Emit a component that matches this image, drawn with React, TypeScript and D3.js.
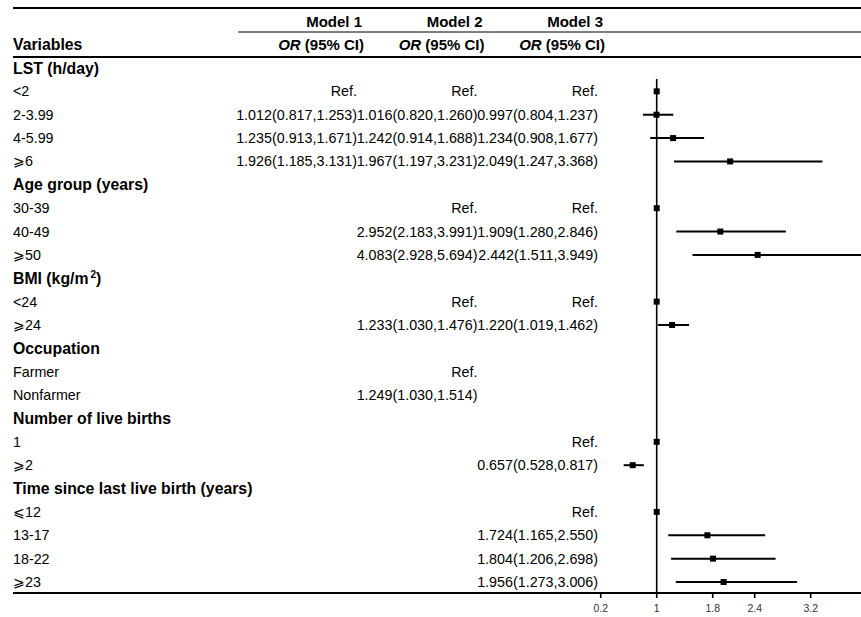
import React from "react";
import * as d3 from "d3";

// rows of the table (group headers + categories)
const rowLabels = [
	"LST (h/day)", "<2", "2-3.99", "4-5.99", "⩾6",
	"Age group (years)", "30-39", "40-49", "⩾50",
	"BMI (kg/m2)", "<24", "⩾24",
	"Occupation", "Farmer", "Nonfarmer",
	"Number of live births", "1", "⩾2",
	"Time since last live birth (years)", "⩽12", "13-17", "18-22", "⩾23",
];
const isGroup = [1, 0, 0, 0, 0, 1, 0, 0, 0, 1, 0, 0, 1, 0, 0, 1, 0, 0, 1, 0, 0, 0, 0];

const N = null;
// Ref. rows: OR = 1 with no interval
const m1OR = [N, 1, 1.012, 1.235, 1.926, N, N, N, N, N, N, N, N, N, N, N, N, N, N, N, N, N, N];
const m1Lo = [N, N, 0.817, 0.913, 1.185, N, N, N, N, N, N, N, N, N, N, N, N, N, N, N, N, N, N];
const m1Hi = [N, N, 1.253, 1.671, 3.131, N, N, N, N, N, N, N, N, N, N, N, N, N, N, N, N, N, N];

const m2OR = [N, 1, 1.016, 1.242, 1.967, N, 1, 2.952, 4.083, N, 1, 1.233, N, 1, 1.249, N, N, N, N, N, N, N, N];
const m2Lo = [N, N, 0.82, 0.914, 1.197, N, N, 2.183, 2.928, N, N, 1.03, N, N, 1.03, N, N, N, N, N, N, N, N];
const m2Hi = [N, N, 1.26, 1.688, 3.231, N, N, 3.991, 5.694, N, N, 1.476, N, N, 1.514, N, N, N, N, N, N, N, N];

const m3OR = [N, 1, 0.997, 1.234, 2.049, N, 1, 1.909, 2.442, N, 1, 1.22, N, N, N, N, 1, 0.657, N, 1, 1.724, 1.804, 1.956];
const m3Lo = [N, N, 0.804, 0.908, 1.247, N, N, 1.28, 1.511, N, N, 1.019, N, N, N, N, N, 0.528, N, N, 1.165, 1.206, 1.273];
const m3Hi = [N, N, 1.237, 1.677, 3.368, N, N, 2.846, 3.949, N, N, 1.462, N, N, N, N, N, 0.817, N, N, 2.55, 2.698, 3.006];

const modelNames = ["Model 1", "Model 2", "Model 3"];
const xTicks = [0.2, 1, 1.8, 2.4, 3.2];

const W = 861;
const H = 617;
const font = "'Liberation Sans', Arial, Helvetica, sans-serif";
const f3 = d3.format(".3f");

function cellText(or: number | null, lo: number | null, hi: number | null) {
	if (or == null) return "";
	if (lo == null || hi == null) return "Ref.";
	return `${f3(or)}(${f3(lo)},${f3(hi)})`;
}

const App = () => {
	const x = d3.scaleLinear().domain([0.2, 3.2]).range([600.7, 810.7]);
	const y = d3.scaleLinear().domain([0, rowLabels.length - 1]).range([68, 582]);
	const colRight = [357, 477.5, 598]; // right edge of each model column
	const models = [
		[m1OR, m1Lo, m1Hi],
		[m2OR, m2Lo, m2Hi],
		[m3OR, m3Lo, m3Hi],
	];
	const axisY = 593;

	return (
		<div style={{ position: "absolute", left: 0, top: 0 }}>
			<svg width={W} height={H} style={{ display: "block", background: "#fff" }} fontFamily={font}>
				{/* table rules */}
				<line x1={13} x2={W} y1={8} y2={8} stroke="#000" strokeWidth={2} />
				<line x1={238} x2={W} y1={32} y2={32} stroke="#000" strokeWidth={1.2} />
				<line x1={13} x2={W} y1={57} y2={57} stroke="#000" strokeWidth={2} />
				<line x1={13} x2={W} y1={axisY} y2={axisY} stroke="#000" strokeWidth={2} />

				{/* headers */}
				{modelNames.map((m, i) => (
					<text key={m} x={colRight[i] + 5} y={27} textAnchor="end" fontSize={15} fontWeight="bold">
						{m}
					</text>
				))}
				{modelNames.map((m, i) => (
					<text key={"or" + m} x={colRight[i] + 7} y={50} textAnchor="end" fontSize={15} fontWeight="bold">
						<tspan fontStyle="italic">OR</tspan> (95% CI)
					</text>
				))}
				<text x={13} y={50} fontSize={15.8} fontWeight="bold">Variables</text>

				{/* row labels */}
				{rowLabels.map((lab, i) =>
					isGroup[i] ? (
						<text key={i} x={13} y={y(i) + 5.5} fontSize={15.8} fontWeight="bold">
							{lab === "BMI (kg/m2)" ? (
								<>
									BMI (kg/m
									<tspan fontSize={10} dx={2} dy={-6}>2</tspan>
									<tspan dy={6}>)</tspan>
								</>
							) : (
								lab
							)}
						</text>
					) : (
						<text key={i} x={13} y={y(i) + 5} fontSize={14.3}>
							{lab}
						</text>
					)
				)}

				{/* model values */}
				{models.map(([or, lo, hi], m) =>
					rowLabels.map((_, i) => {
						const t = cellText(or[i], lo[i], hi[i]);
						if (!t) return null;
						return (
							<text key={m + "-" + i} x={colRight[m]} y={y(i) + 5} textAnchor="end" fontSize={14.3}>
								{t}
							</text>
						);
					})
				)}

				{/* forest plot (Model 3) */}
				<line x1={x(1)} x2={x(1)} y1={79} y2={axisY} stroke="#000" strokeWidth={1.6} />
				{rowLabels.map((_, i) => {
					const or = m3OR[i];
					if (or == null) return null;
					const lo = m3Lo[i];
					const hi = m3Hi[i];
					return (
						<g key={"f" + i}>
							{lo != null && hi != null && (
								<line x1={x(lo)} x2={x(hi)} y1={y(i)} y2={y(i)} stroke="#000" strokeWidth={2} />
							)}
							<rect x={x(or) - 3} y={y(i) - 3} width={6} height={6} fill="#000" />
						</g>
					);
				})}

				{/* x axis */}
				{xTicks.map((t) => (
					<g key={t} transform={`translate(${x(t)},${axisY})`}>
						<line y1={0} y2={5} stroke="#000" strokeWidth={1.6} />
						<text y={18.5} textAnchor="middle" fontSize={10.5} fill="#333">
							{t}
						</text>
					</g>
				))}
			</svg>
		</div>
	);
};

export default App;
